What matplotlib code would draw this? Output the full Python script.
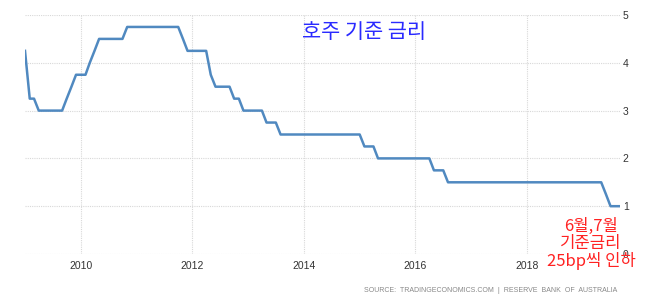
import matplotlib.pyplot as plt
import pandas as pd

# monthly cash rate, Jan 2009 .. Sep 2019
rate_2009 = [4.25, 3.25, 3.25, 3.00, 3.00, 3.00, 3.00, 3.00, 3.00, 3.25, 3.50, 3.75]
rate_2010 = [3.75, 3.75, 4.00, 4.25, 4.50, 4.50, 4.50, 4.50, 4.50, 4.50, 4.75, 4.75]
rate_2011 = [4.75, 4.75, 4.75, 4.75, 4.75, 4.75, 4.75, 4.75, 4.75, 4.75, 4.50, 4.25]
rate_2012 = [4.25, 4.25, 4.25, 4.25, 3.75, 3.50, 3.50, 3.50, 3.50, 3.25, 3.25, 3.00]
rate_2013 = [3.00, 3.00, 3.00, 3.00, 2.75, 2.75, 2.75, 2.50, 2.50, 2.50, 2.50, 2.50]
rate_2014 = [2.50, 2.50, 2.50, 2.50, 2.50, 2.50, 2.50, 2.50, 2.50, 2.50, 2.50, 2.50]
rate_2015 = [2.50, 2.25, 2.25, 2.25, 2.00, 2.00, 2.00, 2.00, 2.00, 2.00, 2.00, 2.00]
rate_2016 = [2.00, 2.00, 2.00, 2.00, 1.75, 1.75, 1.75, 1.50, 1.50, 1.50, 1.50, 1.50]
rate_2017 = [1.50, 1.50, 1.50, 1.50, 1.50, 1.50, 1.50, 1.50, 1.50, 1.50, 1.50, 1.50]
rate_2018 = [1.50, 1.50, 1.50, 1.50, 1.50, 1.50, 1.50, 1.50, 1.50, 1.50, 1.50, 1.50]
rate_2019 = [1.50, 1.50, 1.50, 1.50, 1.50, 1.25, 1.00, 1.00, 1.00]

rates = (rate_2009 + rate_2010 + rate_2011 + rate_2012 + rate_2013 + rate_2014
         + rate_2015 + rate_2016 + rate_2017 + rate_2018 + rate_2019)
dates = pd.date_range('2009-01-01', periods=len(rates), freq='MS')

year_ticks = ['2010', '2012', '2014', '2016', '2018']
y_ticks = [0, 1, 2, 3, 4, 5]

title = '호주 기준 금리'
note = '6월,7월\n기준금리\n25bp씩 인하'
source = 'SOURCE:  TRADINGECONOMICS.COM  |  RESERVE  BANK  OF  AUSTRALIA'

plt.rcParams['font.family'] = ['Liberation Sans', 'DejaVu Sans']

fig = plt.figure(figsize=(6.71, 3.05), dpi=100)
ax = fig.add_axes([25 / 671, 1 - 254 / 305, 595 / 671, 239 / 305])

ax.plot(dates, rates, color='#5089c0', lw=1.8, solid_joinstyle='round')

ax.set_xlim(dates[0], dates[-1])
ax.set_ylim(0, 5)
ax.set_xticks([pd.Timestamp(y + '-01-01') for y in year_ticks])
ax.set_xticklabels(year_ticks)
ax.set_yticks(y_ticks)
ax.yaxis.tick_right()
ax.tick_params(axis='both', length=0, labelsize=7.5, colors='#333333')
ax.tick_params(axis='y', pad=2)
ax.tick_params(axis='x', pad=5)
ax.grid(True, color='#d8d8d8', linestyle=(0, (1, 1)), lw=0.8)
for s in ax.spines.values():
    s.set_visible(False)

fig.text(364 / 671, 1 - 32 / 305, title, color='#2a2aff', fontsize=15,
         ha='center', va='center', family=['Noto Sans CJK KR', 'DejaVu Sans'])
fig.text(591 / 671, 1 - 244 / 305, note, color='#ff2222', fontsize=12,
         ha='center', va='center', linespacing=1.0,
         family=['Noto Sans CJK KR', 'DejaVu Sans'])
fig.text(617 / 671, 1 - 291 / 305, source, color='#888888', fontsize=5,
         ha='right', va='center', family=['Liberation Sans', 'DejaVu Sans'])

fig.savefig('out.png', dpi=100, facecolor='white')
